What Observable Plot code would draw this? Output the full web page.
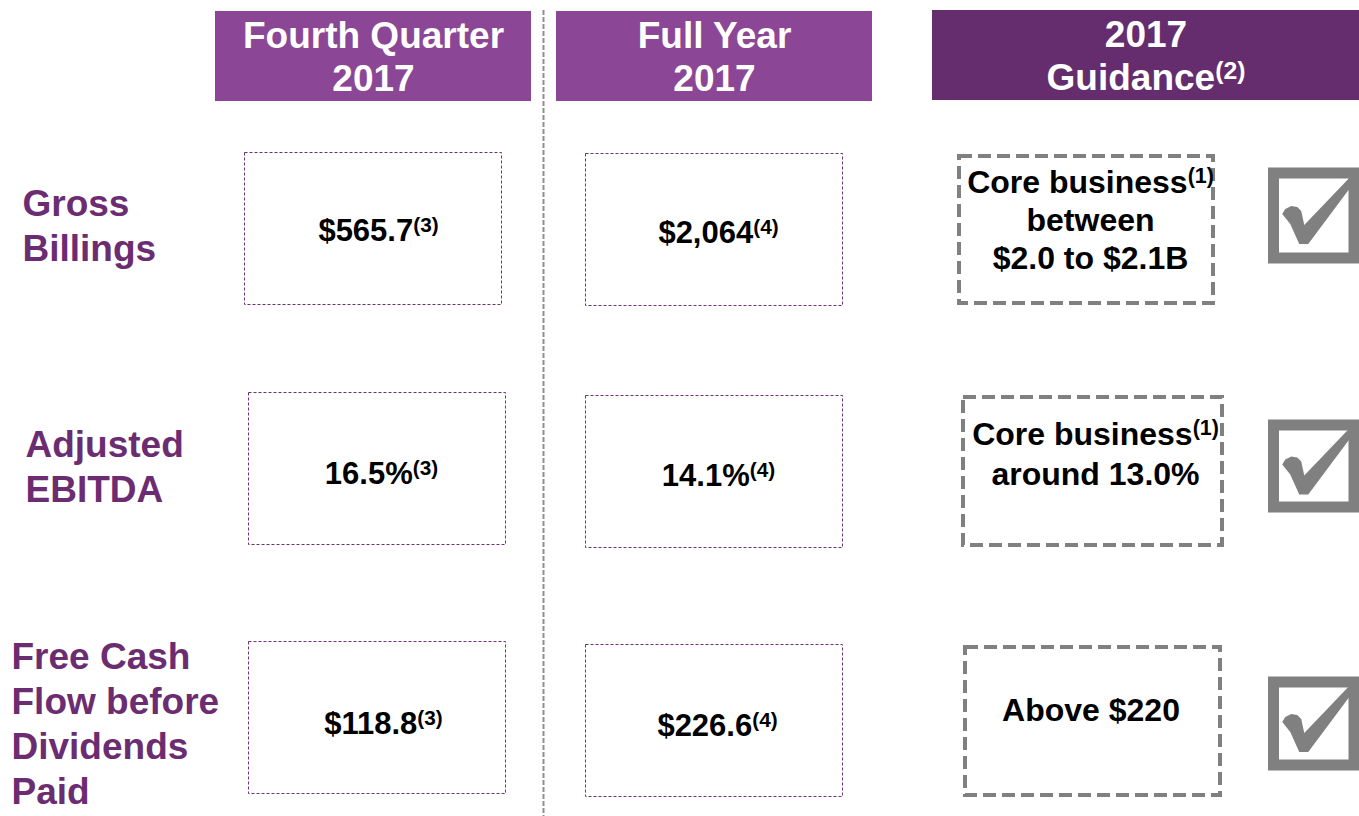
<!DOCTYPE html>
<html><head><meta charset="utf-8">
<script src="https://cdn.jsdelivr.net/npm/d3@7"></script>
<script src="https://cdn.jsdelivr.net/npm/@observablehq/plot@0.6"></script>
<style>body{margin:0;background:#fff;overflow:hidden}#chart svg{display:block}</style>
</head><body><div id="chart"></div>
<script>
// ---- content ----
const columnHeaders = ["Fourth Quarter\n2017", "Full Year\n2017", "2017\nGuidance^(2)"];
const metrics = ["Gross\nBillings", "Adjusted\nEBITDA", "Free Cash\nFlow before\nDividends\nPaid"];
const fourthQuarter2017 = ["$565.7^(3)", "16.5%^(3)", "$118.8^(3)"];
const fullYear2017 = ["$2,064^(4)", "14.1%^(4)", "$226.6^(4)"];
const guidance2017 = ["Core business^(1)\nbetween\n$2.0 to $2.1B", "Core business^(1)\naround 13.0%", "Above $220"];
const guidanceMet = [true, true, true];

// ---- layout (pixel geometry, kept separate from content) ----
const W = 1359, H = 816;
const headerBox = [[215, 531, 11, 101], [556, 872, 11, 101], [932, 1359, 10, 100]];
const headerFill = ["#8B4796", "#8B4796", "#652D6D"];
const headerTextY = [55, 55, 54];
const labelPos = [[22, 224], [25, 465], [11, 722]];
const q4Box = [[244.5, 501.5, 152.5, 304.5], [248.5, 505.5, 392.5, 544.5], [248.5, 505.5, 641.5, 793.5]];
const q4Text = [[378, 231], [381, 473.5], [383, 723.5]];
const fyBox = [[585.5, 842.5, 153.5, 305.5], [585.5, 842.5, 395.5, 547.5], [585.5, 842.5, 644.5, 796.5]];
const fyText = [[718, 233], [718, 475.5], [717, 725.5]];
const gBox = [[959, 1213, 156, 303], [963, 1222, 397, 545], [965, 1220, 647, 795]];
const gText = [[1090, 218], [1095, 452], [1090.5, 708]];
const gLineHeight = [1.19, 1.25, 1.2];
const cBox = [[1273.5, 1354, 173, 258], [1273.5, 1354, 425, 507], [1273.5, 1354, 682, 765]];

// check-mark glyph outline (unit: px at r = 36), drawn as a custom dot symbol
const checkShape = [[-32, -2], [-29, -7], [-23, -10], [-17, -9], [-13, -5], [-10, 9], [35, -38], [35, -27], [-6, 28], [-15, 28], [-24, 8]];
const checkSymbol = {
  draw(ctx, size) {
    const k = Math.sqrt(size / Math.PI) / 36;
    checkShape.forEach(([x, y], i) => i ? ctx.lineTo(x * k, y * k) : ctx.moveTo(x * k, y * k));
    ctx.closePath();
  }
};

const cells = (vals, boxes, pos) => vals.map((v, i) => ({text: v, b: boxes[i], p: pos[i]}));
const headers = columnHeaders.map((t, i) => ({text: t, b: headerBox[i], fill: headerFill[i], y: headerTextY[i]}));
const labels = metrics.map((t, i) => ({text: t, p: labelPos[i]}));
const q4 = cells(fourthQuarter2017, q4Box, q4Text);
const fy = cells(fullYear2017, fyBox, fyText);
const gd = cells(guidance2017, gBox, gText);
const ck = guidanceMet.map((t, i) => ({met: t, b: cBox[i]})).filter(d => d.met);

const boxOpts = {x1: d => d.b[0], x2: d => d.b[1], y1: d => d.b[2], y2: d => d.b[3]};
const txtOpts = {x: d => d.p[0], y: d => d.p[1], text: "text"};

const chart = Plot.plot({
  width: W, height: H, margin: 0,
  x: {domain: [0, W], range: [0, W], axis: null},
  y: {domain: [0, H], range: [0, H], axis: null},
  color: {type: "identity"},
  style: {fontFamily: "'Liberation Sans', Arial, sans-serif", background: "#fff"},
  marks: [
    Plot.ruleX([543], {y1: 10, y2: H, stroke: "#8f8f8f", strokeWidth: 2, strokeDasharray: "5,2"}),
    Plot.rect(headers, {...boxOpts, fill: "fill"}),
    Plot.text(headers, {x: d => (d.b[0] + d.b[1]) / 2, y: "y", text: "text", fill: "white",
      fontSize: 37, fontWeight: "bold", lineHeight: 1.17}),
    Plot.text(labels, {...txtOpts, textAnchor: "start", fill: "#6B2C71", fontSize: 37, fontWeight: "bold", lineHeight: 1.216}),
    Plot.rect([...q4, ...fy], {...boxOpts, fill: "none", stroke: "#6E3177", strokeWidth: 1, strokeDasharray: "3,2"}),
    Plot.text([...q4, ...fy], {...txtOpts, fill: "black", fontSize: 31, fontWeight: "bold"}),
    Plot.rect(gd, {...boxOpts, fill: "none", stroke: "#808080", strokeWidth: 4, strokeDasharray: "13,6"}),
    ...gd.map((d, i) => Plot.text([d], {...txtOpts, fill: "black", fontSize: 32, fontWeight: "bold", lineHeight: gLineHeight[i]})),
    Plot.rect(ck, {...boxOpts, fill: "none", stroke: "#808080", strokeWidth: 11}),
    Plot.dot(ck, {x: d => (d.b[0] + d.b[1]) / 2, y: d => (d.b[2] + d.b[3]) / 2, r: 36,
      symbol: checkSymbol, fill: "#808080", stroke: "none"})
  ]
});

// superscripts: text after "^" becomes a raised smaller tspan
d3.select(chart).selectAll("text, tspan").each(function () {
  if (this.childElementCount === 0 && this.textContent.includes("^")) {
    const [main, sup] = this.textContent.split("^");
    this.textContent = main;
    d3.select(this).append("tspan").attr("font-size", "0.67em").attr("baseline-shift", "0.45em").text(sup);
  }
});
document.getElementById("chart").appendChild(chart);
</script>
</body></html>
